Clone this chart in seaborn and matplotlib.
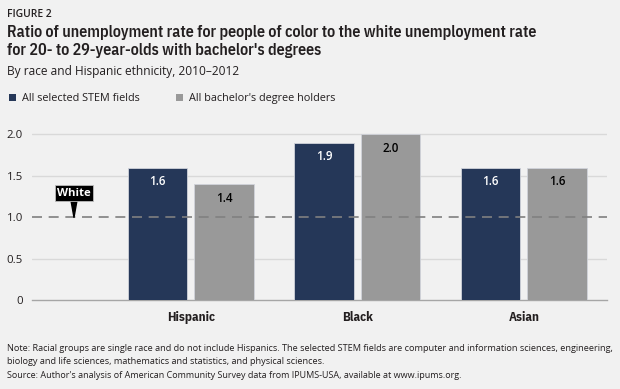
import matplotlib
matplotlib.use("Agg")
import matplotlib.pyplot as plt
import seaborn as sns
import pandas as pd

# ---------------- data ----------------
groups = ["Hispanic", "Black", "Asian"]
series_names = ["All selected STEM fields", "All bachelor's degree holders"]
stem_values = [1.6, 1.9, 1.6]
all_values = [1.4, 2.0, 1.6]
white_ref = 1.0
y_ticks = [0, 0.5, 1.0, 1.5, 2.0]
y_tick_labels = ["0", "0.5", "1.0", "1.5", "2.0"]

fig_label = "FIGURE 2"
title = ("Ratio of unemployment rate for people of color to the white unemployment rate\n"
         "for 20- to 29-year-olds with bachelor's degrees")
subtitle = "By race and Hispanic ethnicity, 2010\u20132012"
note = ("Note: Racial groups are single race and do not include Hispanics. The selected STEM fields are computer and information sciences, engineering,\n"
        "biology and life sciences, mathematics and statistics, and physical sciences.")
source = "Source: Author's analysis of American Community Survey data from IPUMS-USA, available at www.ipums.org."

# --------------- style ----------------
BG = "#f1f1f1"
NAVY = "#1c3561"
GRAY = "#999999"
TXT = "#231f20"
FAM = ["Open Sans", "DejaVu Sans"]
COND = ["IBM Plex Sans Condensed", "Open Sans", "DejaVu Sans"]

sns.set_theme(style="white")
plt.rcParams["font.family"] = FAM
plt.rcParams["text.color"] = TXT

df = pd.DataFrame({
    "group": groups * 2,
    "series": [series_names[0]] * 3 + [series_names[1]] * 3,
    "value": stem_values + all_values,
})

fig = plt.figure(figsize=(6.2, 3.89), dpi=100, facecolor=BG)
W, H = 620, 389
ax_bottom = (H - 300.3) / H
ax_top_px = 134.5 - 0.05 * 83
ax = fig.add_axes([32 / W, ax_bottom, (607 - 32) / W, (300.3 - ax_top_px) / H])
ax.set_facecolor(BG)

sns.barplot(data=df, x="group", y="value", hue="series", order=groups,
            hue_order=series_names, palette=[NAVY, GRAY], width=0.8, gap=0.105,
            edgecolor="#d0d3da", linewidth=0.6, errorbar=None, ax=ax, zorder=3)

ax.set_xlim(-0.955, 2.50)
ax.set_ylim(0, 2.05)
ax.set_yticks(y_ticks)
ax.set_yticklabels(y_tick_labels, fontsize=8.2, color=TXT)
ax.tick_params(axis="y", length=0, pad=6.5)
ax.tick_params(axis="x", length=0, pad=7.5)
for lab in ax.get_xticklabels():
    lab.set_family(COND)
    lab.set_fontweight("bold")
    lab.set_fontsize(9.4)
    lab.set_color(TXT)
ax.set_xlabel("")
ax.set_ylabel("")
for s in ["top", "right", "left"]:
    ax.spines[s].set_visible(False)
ax.spines["bottom"].set_color("#a6a6a6")
ax.spines["bottom"].set_linewidth(1.0)

for yv in [0.5, 1.5, 2.0]:
    ax.axhline(yv, color="#d9d9d9", lw=1.0, zorder=1)
ax.axhline(white_ref, color="#808080", lw=1.2, ls=(0, (6, 4)), zorder=4)

# value labels
for cont, vals, col in zip(ax.containers, [stem_values, all_values], ["white", "black"]):
    for patch, v in zip(cont.patches, vals):
        ax.annotate(f"{v:.1f}", (patch.get_x() + patch.get_width() / 2, patch.get_height()),
                    xytext=(0, -10), textcoords="offset points", ha="center", va="center",
                    fontsize=8.4, fontweight="semibold", color=col, zorder=5)

# White callout
wx = -0.955 + (74 - 32) / 166.5
ax.annotate("White", (wx, white_ref), xytext=(0, 17.5), textcoords="offset points",
            ha="center", va="center", fontsize=8.2, fontweight="bold", color="white",
            bbox=dict(boxstyle="square,pad=0.22", fc="black", ec="#bbbbbb", lw=0.6),
            arrowprops=dict(arrowstyle="wedge,tail_width=0.5", fc="black", ec="black",
                            shrinkA=0, shrinkB=0), zorder=6)

leg = ax.legend(loc="upper left", bbox_to_anchor=(8.5 / W, (H - 93) / H),
                bbox_transform=fig.transFigure, ncol=2, frameon=False,
                fontsize=7.8, handlelength=0.66, handleheight=0.66,
                handletextpad=0.55, columnspacing=3.4, borderaxespad=0, borderpad=0)
for h in leg.legend_handles:
    h.set_edgecolor("none")

# header text
t_fig = fig.text(7 / W, 1 - 14.7 / H, fig_label, fontsize=6.3, fontweight="semibold",
                 va="center", ha="left")
t_title = fig.text(7 / W, 1 - 41.5 / H, title, fontsize=10.5, fontweight="semibold",
                   family=COND, va="center", ha="left", linespacing=1.33)
t_sub = fig.text(7 / W, 1 - 71 / H, subtitle, fontsize=8.3, va="center", ha="left")
t_note = fig.text(7 / W, 1 - 355 / H, note, fontsize=6.5, va="center", ha="left",
                  linespacing=1.45)
t_src = fig.text(7 / W, 1 - 376 / H, source, fontsize=6.5, va="center", ha="left")

# fit text widths to the reference
renderer = fig.canvas.get_renderer()
for t, target in [(t_fig, 45), (t_title, 535), (t_sub, 231), (t_note, 603), (t_src, 452)]:
    w = t.get_window_extent(renderer).width
    t.set_fontsize(t.get_fontsize() * target / w)

fig.savefig("out.png", dpi=100, facecolor=BG)
